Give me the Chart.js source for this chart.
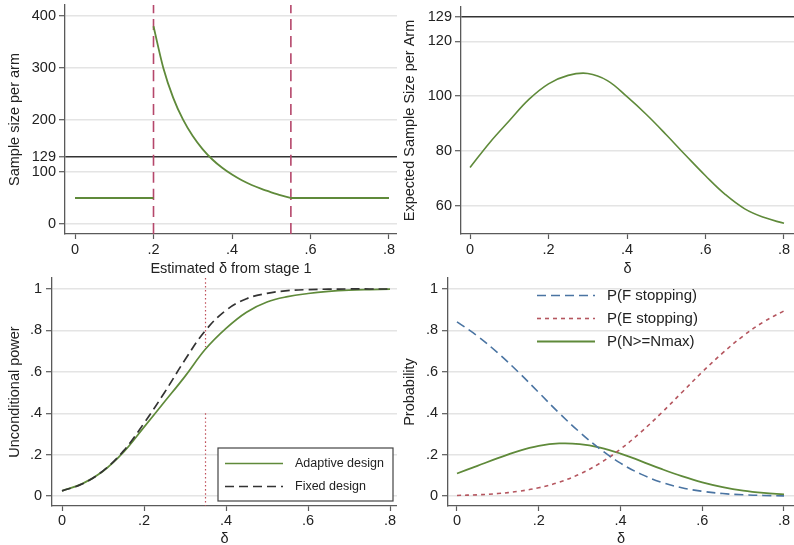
<!DOCTYPE html>
<html>
<head>
<meta charset="utf-8">
<script src="https://cdn.jsdelivr.net/npm/chart.js@4/dist/chart.umd.min.js"></script>
<style>
  body { margin: 0; background: #fff; }
  #wrap { position: relative; width: 794px; height: 545px; overflow: hidden; }
  canvas { position: absolute; }
</style>
</head>
<body>
<div id="wrap">
  <canvas id="sampleSizeChart" width="397" height="280" style="left:0;top:0"></canvas>
  <canvas id="expectedNChart" width="397" height="280" style="left:397px;top:0"></canvas>
  <canvas id="powerChart" width="397" height="280" style="left:0;top:272px"></canvas>
  <canvas id="probChart" width="397" height="280" style="left:397px;top:272px"></canvas>
</div>
<script>
// shared delta grid for panels 2-4
const deltaGrid = [0, 0.05, 0.1, 0.15, 0.2, 0.25, 0.3, 0.35, 0.4, 0.45, 0.5, 0.55, 0.6, 0.65, 0.7, 0.75, 0.8];
const xTicks = [0, 0.2, 0.4, 0.6, 0.8];

// panel 1: re-estimated sample size vs stage-1 estimate
const stage1N = 50;
const futilityBound = 0.2;
const efficacyBound = 0.55;
const fixedN = 129;
const reestDelta = [0.2, 0.225, 0.25, 0.275, 0.3, 0.325, 0.35, 0.375, 0.4, 0.425, 0.45, 0.475, 0.5, 0.525, 0.55];
const reestN = [380, 300, 243, 201, 169, 144, 124, 108, 95, 84, 75, 67.5, 61, 55, 50];
const sampleTicks = [0, 100, 129, 200, 300, 400];

// panel 2: expected sample size
const expectedN = [73.9, 83, 91, 98.8, 104.5, 107.6, 108.3, 105.7, 99.8, 93.2, 85.9, 78.3, 70.9, 64.1, 58.8, 55.6, 53.5];
const expectedTicks = [60, 80, 100, 120, 129];

// panel 3: unconditional power
const adaptivePower = [0.025, 0.06, 0.12, 0.212, 0.333, 0.455, 0.578, 0.71, 0.81, 0.888, 0.937, 0.963, 0.978, 0.988, 0.994, 0.997, 0.999];
const fixedPower = [0.025, 0.059, 0.122, 0.218, 0.352, 0.5, 0.658, 0.8, 0.897, 0.953, 0.979, 0.992, 0.997, 0.999, 1, 1, 1];
const designDelta = 0.35;
const markTop = [1.053, 0.72];
const markBottom = [0.4, -0.048];

// panel 4: stopping probabilities
const pFutility = [0.841, 0.773, 0.691, 0.599, 0.5, 0.401, 0.309, 0.227, 0.159, 0.106, 0.067, 0.04, 0.023, 0.012, 0.006, 0.003, 0.001];
const pEfficacy = [0.003, 0.006, 0.012, 0.023, 0.04, 0.067, 0.106, 0.159, 0.227, 0.309, 0.401, 0.5, 0.599, 0.691, 0.773, 0.841, 0.894];
const pNmax = [0.109, 0.146, 0.183, 0.217, 0.242, 0.254, 0.251, 0.234, 0.205, 0.169, 0.131, 0.096, 0.066, 0.043, 0.026, 0.015, 0.008];
const probTicks = [0, 0.2, 0.4, 0.6, 0.8, 1];

const green = '#5f8a3a';
const blue = '#4a74a2';
const red = '#b5565f';
const crimson = '#b5476b';
const axisColor = '#5a5a5a';
const gridColor = '#e4e4e4';
const textColor = '#222';
const fontFamily = '"Liberation Sans", Arial, Helvetica, sans-serif';

Chart.defaults.font.family = fontFamily;
Chart.defaults.font.size = 14.5;
Chart.defaults.color = textColor;

const pairs = (xs, ys) => xs.map((x, i) => ({ x: x, y: ys[i] }));

function stataLabel(v) {
    if (v === 0) return '0';
    return String(v).replace(/^0\./, '.');
}

const insideLegend = {
    id: 'insideLegend',
    afterDatasetsDraw(chart, args, opts) {
        if (!opts.items) return;
        const ctx = chart.ctx;
        const area = chart.chartArea;
        ctx.save();
        if (opts.box) {
            ctx.fillStyle = '#fff';
            ctx.fillRect(area.left + opts.box.x, area.top + opts.box.y, opts.box.w, opts.box.h);
            ctx.strokeStyle = '#444';
            ctx.lineWidth = 1.2;
            ctx.strokeRect(area.left + opts.box.x, area.top + opts.box.y, opts.box.w, opts.box.h);
        }
        opts.items.forEach((idx, i) => {
            const ds = chart.data.datasets[idx];
            const y = Math.round(area.top + opts.rowY + i * opts.rowGap) + 0.5;
            ctx.strokeStyle = ds.borderColor;
            ctx.lineWidth = ds.borderWidth;
            ctx.setLineDash(ds.borderDash || []);
            ctx.beginPath();
            ctx.moveTo(area.left + opts.lineX, y);
            ctx.lineTo(area.left + opts.lineX + opts.lineLen, y);
            ctx.stroke();
            ctx.setLineDash([]);
            ctx.fillStyle = textColor;
            ctx.font = opts.fontSize + 'px ' + fontFamily;
            ctx.textBaseline = 'middle';
            ctx.fillText(ds.label, area.left + opts.textX, y);
        });
        ctx.restore();
    }
};

function buildScales(opt) {
    return {
        x: {
            type: 'linear',
            min: opt.xMin,
            max: opt.xMax,
            afterBuildTicks: s => { s.ticks = xTicks.map(v => ({ value: v })); },
            afterFit: s => {
                s.height = opt.xHeight;
                s.paddingLeft = 0; s.paddingRight = 0; s.paddingTop = 0; s.paddingBottom = 0;
            },
            grid: { drawOnChartArea: false, tickLength: 5, tickColor: axisColor, tickWidth: 1.2 },
            border: { color: axisColor, width: 1.3 },
            ticks: { autoSkip: false, maxRotation: 0, padding: opt.xTickPad, callback: stataLabel },
            title: { display: true, text: opt.xTitle, padding: { top: 0, bottom: opt.xTitlePad } }
        },
        y: {
            type: 'linear',
            min: opt.yMin,
            max: opt.yMax,
            afterBuildTicks: s => { s.ticks = opt.yTicks.map(v => ({ value: v })); },
            afterFit: s => {
                s.width = opt.yWidth;
                s.paddingLeft = 0; s.paddingRight = 0; s.paddingTop = 0; s.paddingBottom = 0;
            },
            grid: {
                color: c => (c.tick && c.tick.value === fixedN) ? '#333' : gridColor,
                lineWidth: c => (c.tick && c.tick.value === fixedN) ? 1.5 : 1.4,
                tickLength: 6,
                tickColor: axisColor,
                tickWidth: 1.2
            },
            border: { color: axisColor, width: 1.3 },
            ticks: { autoSkip: false, padding: opt.yTickPad, callback: stataLabel },
            title: { display: true, text: opt.yTitle, padding: { top: opt.yTitlePad, bottom: 0 } }
        }
    };
}

function line(label, data, color, width, dash, monotone) {
    const ds = {
        label: label,
        data: data,
        borderColor: color,
        backgroundColor: color,
        borderWidth: width,
        borderDash: dash || [],
        pointRadius: 0,
        fill: false,
        tension: 0.4
    };
    if (monotone) ds.cubicInterpolationMode = 'monotone';
    return ds;
}

function makeChart(id, datasets, opt, legendOpts) {
    const ctx = document.getElementById(id).getContext('2d');
    return new Chart(ctx, {
        type: 'line',
        data: { datasets: datasets },
        options: {
            responsive: false,
            animation: false,
            layout: { padding: { left: 0, right: 0, top: opt.top, bottom: 0 } },
            scales: buildScales(opt),
            plugins: {
                legend: { display: false },
                tooltip: { enabled: false },
                insideLegend: legendOpts || {}
            }
        },
        plugins: [insideLegend]
    });
}

// panel 1
const y1Min = -19.2, y1Max = 421;
makeChart('sampleSizeChart', [
    line('flat left', pairs([0, futilityBound], [stage1N, stage1N]), green, 1.8),
    line('re-estimated', pairs(reestDelta, reestN), green, 1.8, null, true),
    line('flat right', pairs([efficacyBound, 0.8], [stage1N, stage1N]), green, 1.8),
    line('futility', pairs([futilityBound, futilityBound], [y1Min, y1Max]), crimson, 1.6, [11, 6]),
    line('efficacy', pairs([efficacyBound, efficacyBound], [y1Min, y1Max]), crimson, 1.6, [11, 6])
], {
    top: 5, xMin: -0.0255, xMax: 0.8204, yMin: y1Min, yMax: y1Max, yTicks: sampleTicks,
    xHeight: 46, yWidth: 65, xTitle: 'Estimated \u03b4 from stage 1', xTitlePad: 2, xTickPad: 2,
    yTitle: 'Sample size per arm', yTitlePad: 6, yTickPad: 3
});

// panel 2
makeChart('expectedNChart', [
    line('Expected N', pairs(deltaGrid, expectedN), green, 1.6)
], {
    top: 7, xMin: -0.023, xMax: 0.8255, yMin: 49.6, yMax: 132.6, yTicks: expectedTicks,
    xHeight: 46, yWidth: 64, xTitle: '\u03b4', xTitlePad: 2, xTickPad: 2,
    yTitle: 'Expected Sample Size per Arm', yTitlePad: 4, yTickPad: 3
});

// panel 3
const y3Min = -0.048, y3Max = 1.053;
makeChart('powerChart', [
    line('mark top', pairs([designDelta, designDelta], markTop), '#c0505a', 1.2, [1.5, 2.5]),
    line('mark bottom', pairs([designDelta, designDelta], markBottom), '#c0505a', 1.2, [1.5, 2.5]),
    line('Fixed design', pairs(deltaGrid, fixedPower), '#333', 1.7, [9, 5]),
    line('Adaptive design', pairs(deltaGrid, adaptivePower), green, 1.7)
], {
    top: 6, xMin: -0.0244, xMax: 0.817, yMin: y3Min, yMax: y3Max, yTicks: probTicks,
    xHeight: 46, yWidth: 52, xTitle: '\u03b4', xTitlePad: 4, xTickPad: 1,
    yTitle: 'Unconditional power', yTitlePad: 6, yTickPad: 4
}, {
    items: [3, 2], box: { x: 166, y: 170, w: 175, h: 53 },
    rowY: 185, rowGap: 23, lineX: 173, lineLen: 58, textX: 243, fontSize: 12.5
});

// panel 4
makeChart('probChart', [
    line('P(F stopping)', pairs(deltaGrid, pFutility), blue, 1.6, [9, 5]),
    line('P(E stopping)', pairs(deltaGrid, pEfficacy), red, 1.6, [4, 4]),
    line('P(N>=Nmax)', pairs(deltaGrid, pNmax), green, 1.8)
], {
    top: 6, xMin: -0.022, xMax: 0.8245, yMin: y3Min, yMax: y3Max, yTicks: probTicks,
    xHeight: 46, yWidth: 51, xTitle: '\u03b4', xTitlePad: 4, xTickPad: 1,
    yTitle: 'Probability', yTitlePad: 4, yTickPad: 4
}, {
    items: [0, 1, 2],
    rowY: 17, rowGap: 23, lineX: 89, lineLen: 58, textX: 159, fontSize: 15
});
</script>
</body>
</html>
